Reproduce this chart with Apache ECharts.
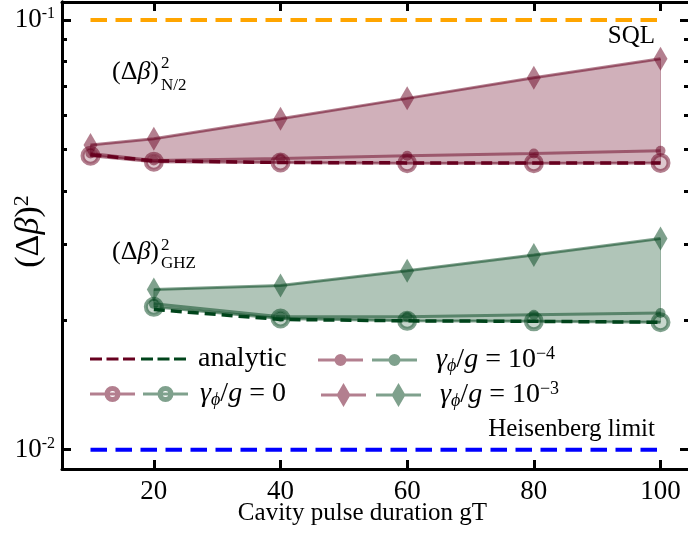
<!DOCTYPE html>
<html>
<head>
<meta charset="utf-8">
<script src="https://cdn.jsdelivr.net/npm/echarts@6/dist/echarts.min.js"></script>
<style>
html, body { margin: 0; padding: 0; background: #fff; }
#chart { width: 688px; height: 533px; }
</style>
</head>
<body>
<div id="chart"></div>
<script>
// pulse durations
var gT = [10, 20, 40, 60, 80, 100];
var gTGhz = [20, 40, 60, 80, 100];

// (Δβ)^2 for the N/2 state
var n2Analytic = [0.0486, 0.0470, 0.0466, 0.0465, 0.0465, 0.0465];
var n2Gamma0 = [0.0483, 0.0468, 0.0466, 0.0464, 0.0464, 0.0465];
var n2Gamma4 = [0.0489, 0.0471, 0.0476, 0.0483, 0.0489, 0.0496];
var n2Gamma3 = [0.0512, 0.0529, 0.0589, 0.0657, 0.0734, 0.0812];

// (Δβ)^2 for the GHZ state
var ghzAnalytic = [0.0212, 0.0201, 0.01995, 0.0199, 0.0198];
var ghzGamma0 = [0.0215, 0.0202, 0.01995, 0.0199, 0.0198];
var ghzGamma4 = [0.02185, 0.0204, 0.0204, 0.0206, 0.0208];
var ghzGamma3 = [0.0236, 0.0241, 0.0261, 0.0284, 0.0310];

// reference levels
var sqlLevel = 0.1;
var heisenbergLevel = 0.01;
var limitSpan = [10, 100];

// ticks
var xTicks = [20, 40, 60, 80, 100];
var yMajor = [0.01, 0.1];
var yMinor = [0.02, 0.03, 0.04, 0.05, 0.06, 0.07, 0.08, 0.09];

var RED = '#67001f', GREEN = '#00441b';
var RED_A = 'rgba(103,0,31,', GREEN_A = 'rgba(0,68,27,';
var SERIF = 'Liberation Serif, DejaVu Serif, serif';
var lg = Math.log10;

var pairs = function (xs, ys) {
    return xs.map(function (x, i) { return [x, lg(ys[i])]; });
};

var mathRich = {
    it: { fontFamily: SERIF, fontStyle: 'italic', fontSize: 28, color: '#000' },
    n: { fontFamily: SERIF, fontSize: 28, color: '#000' },
    sub: { fontFamily: SERIF, fontStyle: 'italic', fontSize: 18, color: '#000', verticalAlign: 'bottom', padding: [12, 0, 0, 0] },
    sup: { fontFamily: SERIF, fontSize: 18, color: '#000', verticalAlign: 'top', padding: [0, 0, 12, 0] }
};
var gammaText = function (lead, rhs, exp) {
    var s = '{it|' + lead + 'γ}{sub|ϕ}{n|/}{it|g}{n| = ' + rhs + '}';
    if (exp) s += '{sup|' + exp + '}';
    return s;
};

// shaded band between the γ=0 curve and the γ=1e-3 curve
var band = function (xs, lo, hi, color) {
    return {
        type: 'custom', z: 1, silent: true, clip: true,
        data: xs.map(function (x, i) { return [x, lg(lo[i]), lg(hi[i])]; }),
        encode: { x: 0, y: [1, 2] },
        renderItem: function (params, api) {
            if (params.dataIndexInside !== 0) return;
            var n = params.dataInsideLength, up = [], dn = [];
            for (var i = 0; i < n; i++) {
                up.push(api.coord([api.value(0, i), api.value(2, i)]));
                dn.push(api.coord([api.value(0, i), api.value(1, i)]));
            }
            return {
                type: 'polygon',
                shape: { points: up.concat(dn.reverse()) },
                style: { fill: color, stroke: color, lineWidth: 1, opacity: 0.31 }
            };
        }
    };
};

var markerLine = function (name, xs, ys, rgba, symbol, size, ring, z) {
    return {
        name: name, type: 'line', data: pairs(xs, ys), z: z,
        symbol: symbol, symbolSize: size, showAllSymbol: true,
        lineStyle: { color: rgba + '0.5)', width: 3 },
        itemStyle: ring
            ? { color: rgba + '0.22)', borderColor: rgba + '0.5)', borderWidth: 4 }
            : { color: rgba + '0.5)', borderWidth: 0 }
    };
};

var dashed = function (name, xs, ys, color, width, dash, z) {
    return {
        name: name, type: 'line', data: pairs(xs, ys), z: z, symbol: 'none',
        lineStyle: { color: color, width: width, type: dash },
        itemStyle: { color: color }
    };
};

var series = [
    band(gT, n2Gamma0, n2Gamma3, RED),
    band(gTGhz, ghzGamma0, ghzGamma3, GREEN),
    markerLine('n0', gT, n2Gamma0, RED_A, 'circle', 16, true, 3),
    markerLine('g0', gTGhz, ghzGamma0, GREEN_A, 'circle', 16, true, 3),
    markerLine('n4', gT, n2Gamma4, RED_A, 'circle', 10, false, 4),
    markerLine('g4', gTGhz, ghzGamma4, GREEN_A, 'circle', 10, false, 4),
    markerLine('n3', gT, n2Gamma3, RED_A, 'diamond', [14, 24], false, 4),
    markerLine('g3', gTGhz, ghzGamma3, GREEN_A, 'diamond', [14, 24], false, 4),
    dashed('nA', gT, n2Analytic, RED, 3.5, [11, 6], 5),
    dashed('gA', gTGhz, ghzAnalytic, GREEN, 3.5, [11, 6], 5),
    dashed('sql', limitSpan, [sqlLevel, sqlLevel], '#ffa500', 4, [16.5, 8.5], 5),
    dashed('hl', limitSpan, [heisenbergLevel, heisenbergLevel], '#0000ff', 4, [16.5, 8.5], 5)
];

// legend handles: line + marker, drawn as one path
var ICON_DASH = 'path://M0,0h12v3h-12z M16.5,0h12v3h-12z M33,0h12v3h-12z';
var ICON_DOT = 'path://M0,4.5h45v3h-45z M16.5,6a6,6 0 1,1 12,0a6,6 0 1,1 -12,0z';
var ICON_RING = 'path://M0,6.5h45v3h-45z M14.5,8a8,8 0 1,1 16,0a8,8 0 1,1 -16,0z M19.5,8a3,3 0 1,0 6,0a3,3 0 1,0 -6,0z';
var ICON_DIAMOND = 'path://M0,10.5h45v3h-45z M22.5,0L29.5,12L22.5,24L15.5,12z';

var legendBox = function (left, top, names, colors, icon, h, gap, label) {
    return {
        left: left, top: top, orient: 'horizontal', selectedMode: false,
        itemWidth: 45, itemHeight: h, itemGap: gap,
        data: names.map(function (n, i) {
            return { name: n, icon: icon, itemStyle: { color: colors[i], borderWidth: 0, opacity: 1 } };
        }),
        formatter: function (name) { return name === names[1] ? label : ''; },
        textStyle: { fontFamily: SERIF, fontSize: 28, color: '#000', rich: mathRich }
    };
};

var axisCommon = {
    type: 'value', splitLine: { show: false },
    axisLine: { show: true, onZero: false, lineStyle: { color: '#000', width: 3 } }
};
var tickStyle = { width: 3, color: '#000' };
var yRange = { min: lg(0.00902), max: lg(0.1101) };
var half = [RED_A + '0.5)', GREEN_A + '0.5)'];

var chart = echarts.init(document.getElementById('chart'));
chart.setOption({
    animation: false,
    grid: { left: 62, top: 2, width: 627, height: 467, containLabel: false, outerBoundsMode: 'none' },
    xAxis: [
        Object.assign({}, axisCommon, {
            position: 'bottom', min: 5.5, max: 104.5,
            name: 'Cavity pulse duration gT', nameLocation: 'middle', nameGap: 32, nameMoveOverlap: false,
            nameTextStyle: { fontFamily: SERIF, fontSize: 25, color: '#000', padding: [0, 26, 0, 0] },
            axisTick: { inside: true, length: 9, lineStyle: tickStyle, customValues: xTicks },
            axisLabel: { customValues: xTicks, margin: 9, fontFamily: SERIF, fontSize: 27, color: '#000' }
        }),
        Object.assign({}, axisCommon, {
            position: 'top', min: 5.5, max: 104.5,
            axisTick: { inside: true, length: 9, lineStyle: tickStyle, customValues: xTicks },
            axisLabel: { show: false }
        })
    ],
    yAxis: [
        Object.assign({}, axisCommon, yRange, {
            position: 'left',
            name: '{n|(Δ}{it|β}{n|)}{sup|2}', nameLocation: 'middle', nameRotate: 90, nameGap: 15, nameMoveOverlap: false,
            nameTextStyle: {
                padding: [0, 0, 0, 8],
                rich: {
                    n: { fontFamily: SERIF, fontSize: 34, color: '#000' },
                    it: { fontFamily: SERIF, fontStyle: 'italic', fontSize: 34, color: '#000' },
                    sup: { fontFamily: SERIF, fontSize: 22, color: '#000', verticalAlign: 'top', padding: [0, 0, 14, 0] }
                }
            },
            axisTick: { inside: true, length: 9, lineStyle: tickStyle, customValues: yMajor.map(lg) },
            axisLabel: {
                customValues: yMajor.map(lg), margin: 7,
                formatter: function (v) { return '{b|10}{s|' + Math.round(v) + '}'; },
                rich: {
                    b: { fontFamily: SERIF, fontSize: 27, color: '#000' },
                    s: { fontFamily: SERIF, fontSize: 16, color: '#000', verticalAlign: 'top', padding: [0, 0, 12, 0] }
                }
            }
        }),
        Object.assign({}, axisCommon, yRange, {
            position: 'left',
            axisTick: { inside: true, length: 5, lineStyle: tickStyle, customValues: yMinor.map(lg) },
            axisLabel: { show: false }
        }),
        Object.assign({}, axisCommon, yRange, {
            position: 'right',
            axisTick: { inside: true, length: 9, lineStyle: tickStyle, customValues: yMajor.map(lg) },
            axisLabel: { show: false }
        }),
        Object.assign({}, axisCommon, yRange, {
            position: 'right',
            axisTick: { inside: true, length: 5, lineStyle: tickStyle, customValues: yMinor.map(lg) },
            axisLabel: { show: false }
        })
    ],
    legend: [
        legendBox(85, 340, ['nA', 'gA'], [RED, GREEN], ICON_DASH, 3, 6, '{n| analytic}'),
        legendBox(313, 340, ['n4', 'g4'], half, ICON_DOT, 12, 9, gammaText('\u2002', '10', '−4')),
        legendBox(85, 375, ['n0', 'g0'], half, ICON_RING, 16, 8, gammaText(' ', '0')),
        legendBox(316, 375, ['n3', 'g3'], half, ICON_DIAMOND, 24, 10, gammaText('\u2002', '10', '−3'))
    ],
    graphic: [
        { type: 'text', right: 33, top: 24, style: { text: 'SQL', font: '25px ' + SERIF, fill: '#000' } },
        { type: 'text', right: 33, top: 417, style: { text: 'Heisenberg limit', font: '25px ' + SERIF, fill: '#000' } },
        { type: 'text', left: 112, top: 59, style: { text: '(Δ{it|β})', font: '26px ' + SERIF, fill: '#000', rich: { it: { fontStyle: 'italic', fontSize: 26, fontFamily: SERIF } } } },
        { type: 'text', left: 161, top: 55, style: { text: '2', font: '17px ' + SERIF, fill: '#000' } },
        { type: 'text', left: 161, top: 77, style: { text: 'N/2', font: '17px ' + SERIF, fill: '#000' } },
        { type: 'text', left: 112, top: 239, style: { text: '(Δ{it|β})', font: '26px ' + SERIF, fill: '#000', rich: { it: { fontStyle: 'italic', fontSize: 26, fontFamily: SERIF } } } },
        { type: 'text', left: 161, top: 237, style: { text: '2', font: '17px ' + SERIF, fill: '#000' } },
        { type: 'text', left: 161, top: 255, style: { text: 'GHZ', font: '17px ' + SERIF, fill: '#000' } }
    ],
    series: series
});
</script>
</body>
</html>
